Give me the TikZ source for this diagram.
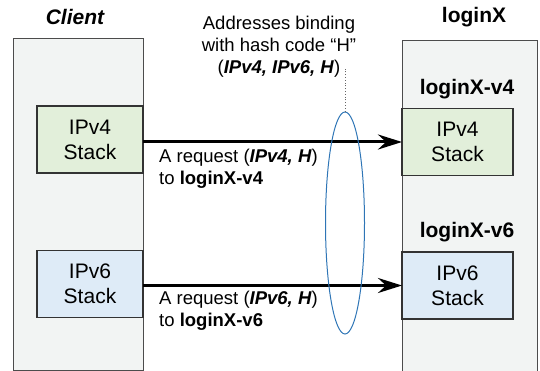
\documentclass[tikz,border=0pt]{standalone}
\usepackage{fontspec}
\setmainfont{Liberation Sans}
\usetikzlibrary{arrows.meta,shapes.geometric}
\definecolor{hostgray}{RGB}{242,244,243}
\definecolor{stackgreen}{RGB}{226,239,218}
\definecolor{stackblue}{RGB}{222,235,247}
\definecolor{ringblue}{RGB}{46,117,182}
\tikzset{
  host/.style={draw=black!70,fill=hostgray,line width=1pt,inner sep=0,outer sep=0},
  stack/.style={draw=black!80,line width=1.5pt,inner sep=0,outer sep=0,align=center,
    minimum width=106pt,minimum height=67pt,font=\fontsize{21}{25}\selectfont},
  head/.style={font=\fontsize{21}{25}\selectfont\bfseries},
  lbl/.style={align=left,anchor=north west,inner sep=0,font=\fontsize{18.5}{22}\selectfont},
  req/.style={-{Stealth[length=24pt,width=15pt,inset=8pt]},line width=3pt}
}
\begin{document}
\begin{tikzpicture}[x=1pt,y=-1pt]
\useasboundingbox (0,0) rectangle (540,371);
\node[host,minimum width=130pt,minimum height=331pt] (client) at (78,204.5) {};
\node[host,minimum width=135pt,minimum height=340pt] (server) at (469.5,211) {};
\node[head] (ct) at (75,17) {\itshape Client};
\node[head] (st) at (474,17) {loginX};
\node[head] (h4) at (467,89) {loginX-v4};
\node[head] (h6) at (467,232) {loginX-v6};
\node[stack,fill=stackgreen] (c4) at (90,139.5) {IPv4\\Stack};
\node[stack,fill=stackblue] (c6) at (90,284) {IPv6\\Stack};
\node[stack,fill=stackgreen,minimum width=111pt] (s4) at (457.5,142) {IPv4\\Stack};
\node[stack,fill=stackblue,minimum width=111pt] (s6) at (457.5,285.5) {IPv6\\Stack};
\draw [req](c4.east |- 0,142)--(s4.west |- 0,142);
\draw [req](c6.east |- 0,285.5)--(s6.west);
\node[lbl] (r4) at (159,149) {A request (\textbf{\textit{IPv4, H}})\\to \textbf{loginX-v4}};
\node[lbl] (r6) at (159,291) {A request (\textbf{\textit{IPv6, H}})\\to \textbf{loginX-v6}};
\node[ellipse,draw=ringblue,line width=1pt,minimum width=39pt,minimum height=222pt,inner sep=0] (bind) at (345,223) {};
\node[align=center,font=\fontsize{18.5}{22}\selectfont] (note) at (279,47) {Addresses binding\\with hash code “H”\\(\textbf{\textit{IPv4, IPv6, H}})};
\coordinate (tip) at (345,67);
\draw [dotted,black!60,line width=0.8pt](bind.north)--(tip);
\end{tikzpicture}
\end{document}
